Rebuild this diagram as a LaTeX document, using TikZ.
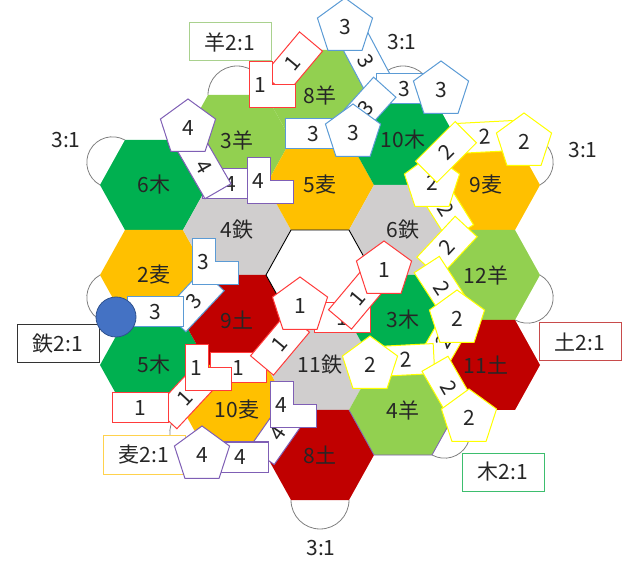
\documentclass[tikz,border=0pt]{standalone}
\usepackage{fontspec}
\setmainfont{Noto Sans CJK JP}
\usetikzlibrary{shapes.geometric}
\definecolor{woodgreen}{HTML}{00B050}
\definecolor{sheepgreen}{HTML}{92D050}
\definecolor{wheatgold}{HTML}{FFC000}
\definecolor{irongray}{HTML}{D0CECE}
\definecolor{soilred}{HTML}{C00000}
\definecolor{pred}{HTML}{FF3B3B}
\definecolor{pyellow}{HTML}{FFFF00}
\definecolor{pblue}{HTML}{5B9BD5}
\definecolor{ppurple}{HTML}{7F5FB5}
\definecolor{dotblue}{HTML}{4472C4}
\definecolor{dotedge}{HTML}{2F528F}
\definecolor{arcgray}{HTML}{808080}
\definecolor{sheepbox}{HTML}{A9D18E}
\definecolor{wheatbox}{HTML}{FFD24D}
\definecolor{woodbox}{HTML}{3DBE6E}
\definecolor{soilbox}{HTML}{C84B4B}

\begin{document}
\begin{tikzpicture}[x=1pt, y=-1pt,
  every node/.style={font=\fontsize{21}{24}\selectfont, text=black!85},
  wood/.style={fill=woodgreen}, sheep/.style={fill=sheepgreen},
  wheat/.style={fill=wheatgold}, iron/.style={fill=irongray},
  soil/.style={fill=soilred}, desert/.style={fill=white, draw=black, line width=0.9pt},
  settle/.style={regular polygon, regular polygon sides=5, draw=#1, fill=white,
    line width=1pt, minimum size=58pt, inner sep=0pt},
  road/.style={rectangle, draw=#1, fill=white, line width=1pt,
    minimum width=56pt, minimum height=30pt, inner sep=0pt},
  portbox/.style={rectangle, draw=#1, fill=white, line width=1pt,
    minimum width=82pt, minimum height=38pt, inner sep=0pt},
  portarc/.style={draw=arcgray, line width=0.8pt},
  pics/hexcell/.style 2 args={code={
    \path [#1] (-54,0) -- (-29,-45) -- (29,-45) -- (54,0) -- (29,45) -- (-29,45) -- cycle;
    \node (-label) {#2};
  }},
  pics/citypiece/.style 2 args={code={
    \draw [draw=#1, fill=white, line width=1pt] (-23,-23) -- (0,-23) -- (0,0) -- (23,0)
      -- (23,23) -- (-23,23) -- cycle;
    \node (-num) at (-11.5,0) {#2};
  }}]
\useasboundingbox (0,0) rectangle (622,564);

\draw [portarc] (237,95) ++(180:29) arc [start angle=180, delta angle=180, radius=29];
\draw [portarc] (112.5,162.5) ++(119:25.7) arc [start angle=119, delta angle=180, radius=25.7];
\draw [portarc] (112.5,297.5) ++(61:25.7) arc [start angle=61, delta angle=180, radius=25.7];
\draw [portarc] (195.5,432.5) ++(61:25.7) arc [start angle=61, delta angle=180, radius=25.7];
\draw [portarc] (320,500) ++(0:29) arc [start angle=0, delta angle=180, radius=29];
\draw [portarc] (444.5,432.5) ++(-61:25.7) arc [start angle=-61, delta angle=180, radius=25.7];
\draw [portarc] (527.5,297.5) ++(-61:25.7) arc [start angle=-61, delta angle=180, radius=25.7];
\draw [portarc] (527.5,162.5) ++(-119:25.7) arc [start angle=-119, delta angle=180, radius=25.7];
\draw [portarc] (403,95) ++(180:29) arc [start angle=180, delta angle=180, radius=29];

\pic (h1) at (154,185) {hexcell={wood}{6木}};
\pic (h2) at (154,275) {hexcell={wheat}{2麦}};
\pic (h3) at (154,365) {hexcell={wood}{5木}};
\pic (h4) at (237,140) {hexcell={sheep}{3羊}};
\pic (h5) at (237,230) {hexcell={iron}{4鉄}};
\pic (h6) at (237,320) {hexcell={soil}{9土}};
\pic (h7) at (237,410) {hexcell={wheat}{10麦}};
\pic (h8) at (320,95) {hexcell={sheep}{8羊}};
\pic (h9) at (320,185) {hexcell={wheat}{5麦}};
\pic (h11) at (320,365) {hexcell={iron}{11鉄}};
\pic (h12) at (320,455) {hexcell={soil}{8土}};
\pic (h13) at (403,140) {hexcell={wood}{10木}};
\pic (h14) at (403,230) {hexcell={iron}{6鉄}};
\pic (h15) at (403,320) {hexcell={wood}{3木}};
\pic (h16) at (403,410) {hexcell={sheep}{4羊}};
\pic (h17) at (486,185) {hexcell={wheat}{9麦}};
\pic (h18) at (486,275) {hexcell={sheep}{12羊}};
\pic (h19) at (486,365) {hexcell={soil}{11土}};
\pic (h10) at (320,275) {hexcell={desert}{}};
\draw [ppurple, line width=0.8pt] (349,410) -- (374,455) -- (432,455) -- (457,410);

\node [portbox=sheepbox] (port-sheep) at (230,42) {羊2:1};
\node [portbox=black!80] (port-iron) at (58,344) {鉄2:1};
\node [portbox=wheatbox] (port-wheat) at (144,455) {麦2:1};
\node [portbox=woodbox] (port-wood) at (503,472) {木2:1};
\node [portbox=soilbox] (port-soil) at (580,342) {土2:1};
\node (port-a) at (66,140) {3:1};
\node (port-b) at (402,42) {3:1};
\node (port-c) at (583,150) {3:1};
\node (port-d) at (321,548) {3:1};

\node [road=ppurple] (p4-r2) at (230,184) {4};
\node [road=ppurple, rotate=-60] (p4-r1) at (204,167) {4};
\node [settle=ppurple] (p4-s1) at (188,128) {4};
\pic (p4-c1) at (270,181) {citypiece={ppurple}{4}};
\node [road=ppurple, rotate=55] (p4-r3) at (278,433) {4};
\pic (p4-c2) at (293,405) {citypiece={ppurple}{4}};
\node [road=ppurple] (p4-r4) at (240,457) {4};
\node [settle=ppurple] (p4-s2) at (202,455) {4};

\node [road=pblue, rotate=-62] (p3-r1) at (366,61) {3};
\node [settle=pblue] (p3-s1) at (345,27) {3};
\node [road=pblue] (p3-r2) at (404,89) {3};
\node [settle=pblue] (p3-s2) at (441,90) {3};
\node [road=pblue, rotate=48] (p3-r3) at (366,108) {3};
\node [road=pblue] (p3-r4) at (313,134) {3};
\node [settle=pblue] (p3-s3) at (353,133) {3};
\node [road=pblue, rotate=47] (p3-r5) at (194,301) {3};
\node [road=pblue] (p3-r6) at (155,312) {3};
\pic (p3-c1) at (215,262) {citypiece={pblue}{3}};
\node [circle, fill=dotblue, draw=dotedge, line width=0.8pt, minimum size=40pt] (p3-dot) at (116,317) {};

\node [road=pyellow, rotate=-58] (p2-r1) at (446,209) {2};
\node [settle=pyellow] (p2-s1) at (432,183) {2};
\node [road=pyellow, rotate=3] (p2-r2) at (485,137) {2};
\node [road=pyellow, rotate=45] (p2-r3) at (446,152) {2};
\node [settle=pyellow] (p2-s2) at (524,142) {2};
\node [road=pyellow, rotate=47] (p2-r4) at (447,247) {2};
\node [road=pyellow, rotate=-57] (p2-r5) at (442,288) {2};
\node [road=pyellow, rotate=60] (p2-r6) at (444,342) {2};
\node [road=pyellow, rotate=3] (p2-r7) at (406,360) {2};
\node [settle=pyellow] (p2-s3) at (370,365) {2};
\node [settle=pyellow] (p2-s4) at (457,319) {2};
\node [road=pyellow, rotate=-60] (p2-r8) at (449,388) {2};
\node [settle=pyellow] (p2-s5) at (469,418) {2};

\node [road=pred, rotate=50] (p1-r1) at (293,63) {1};
\pic (p1-c1) at (272,85) {citypiece={pred}{1}};
\node [road=pred, rotate=47] (p1-r2) at (185,398) {1};
\node [road=pred] (p1-r3) at (140,408) {1};
\node [road=pred] (p1-r4) at (238,368) {1};
\node [road=pred, rotate=50] (p1-r5) at (280,344) {1};
\pic (p1-c2) at (208,368) {citypiece={pred}{1}};
\node [road=pred] (p1-r6) at (342,318) {1};
\node [road=pred, rotate=50] (p1-r7) at (358,298) {1};
\node [settle=pred] (p1-s1) at (300,306) {1};
\node [settle=pred] (p1-s2) at (384,270) {1};
\end{tikzpicture}
\end{document}
